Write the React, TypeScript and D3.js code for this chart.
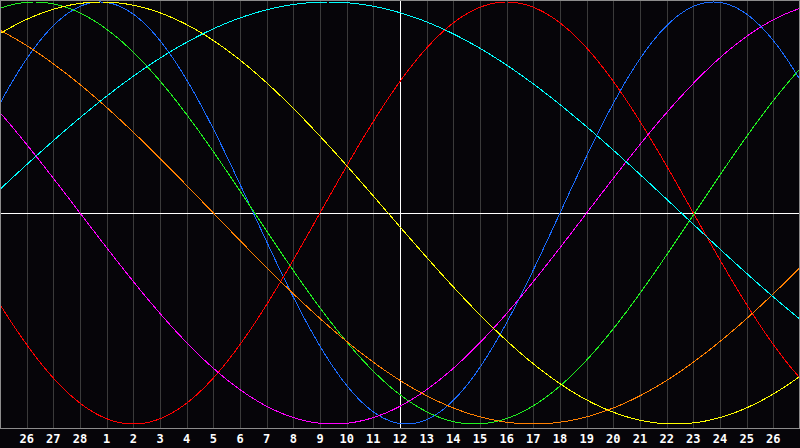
import React from 'react';
import * as d3 from 'd3';

// day labels under each grid line, today (12) sits in the middle
const dayLabels = ['26', '27', '28', '1', '2', '3', '4', '5', '6', '7', '8', '9', '10', '11', '12', '13', '14', '15', '16', '17', '18', '19', '20', '21', '22', '23', '24', '25', '26'];

// biorhythm cycles: period in days, day of the peak relative to today
const cycleNames = ['Physical', 'Emotional', 'Intellectual', 'Intuitive', 'Aesthetic', 'Awareness', 'Spiritual'];
const cyclePeriods = [23, 28, 33, 38, 43, 48, 53];
const cyclePeaks = [-11.25, 4.0, -13.7, 16.5, -11.2, -19.0, -2.7];
const cycleColors = ['#1a6cff', '#ff0000', '#20f020', '#ff00ff', '#ffff00', '#ff8000', '#00ffff'];

const W = 800;
const H = 448;
const SPAN = 15; // days shown either side of today

const App: React.FC = () => {
  const x = d3.scaleLinear().domain([-SPAN, SPAN]).range([0, W]);
  const y = d3.scaleLinear().domain([-1, 1]).range([424, 2]);
  const axisY = 428;

  // sample positions along the x axis
  const samples = d3.range(-SPAN, SPAN + 0.001, 0.05);

  const paths = cycleNames.map((name, i) => {
    const P = cyclePeriods[i];
    const peak = cyclePeaks[i];
    const gen = d3.line<number>()
      .x(d => x(d))
      .y(d => y(Math.cos((2 * Math.PI * (d - peak)) / P)));
    return { name, color: cycleColors[i], d: gen(samples) || '' };
  });

  const ticks = dayLabels.map((label, i) => ({ label, day: i + 1 - SPAN }));

  return (
    <svg
      width={W}
      height={H}
      style={{ position: 'fixed', left: 0, top: 0, background: '#060509', display: 'block' }}
    >
      <rect x={0} y={0} width={W} height={H} fill="#060509" />

      {/* vertical day grid */}
      {ticks.map(t => (
        <line
          key={'g' + t.day}
          x1={Math.round(x(t.day)) + 0.5}
          x2={Math.round(x(t.day)) + 0.5}
          y1={0}
          y2={axisY}
          stroke="#3a3a3a"
          strokeWidth={1}
          shapeRendering="crispEdges"
        />
      ))}

      {/* today / zero cross */}
      <line x1={0} x2={W} y1={213.5} y2={213.5} stroke="#ffffff" strokeWidth={1} shapeRendering="crispEdges" />
      <line x1={x(0) + 0.5} x2={x(0) + 0.5} y1={0} y2={axisY} stroke="#ffffff" strokeWidth={1} shapeRendering="crispEdges" />

      {paths.map(p => (
        <path key={p.name} d={p.d} fill="none" stroke={p.color} strokeWidth={1} shapeRendering="crispEdges" />
      ))}

      {/* frame */}
      <rect x={0.5} y={0.5} width={W - 1} height={axisY} fill="none" stroke="#8c8c8c" strokeWidth={1} shapeRendering="crispEdges" />

      {ticks.map(t => (
        <text
          key={'t' + t.day}
          x={x(t.day)}
          y={443}
          textAnchor="middle"
          fill="#ffffff"
          fontFamily="'DejaVu Sans Mono', monospace"
          fontWeight="bold"
          fontSize={12}
        >
          {t.label}
        </text>
      ))}
    </svg>
  );
};

export default App;
